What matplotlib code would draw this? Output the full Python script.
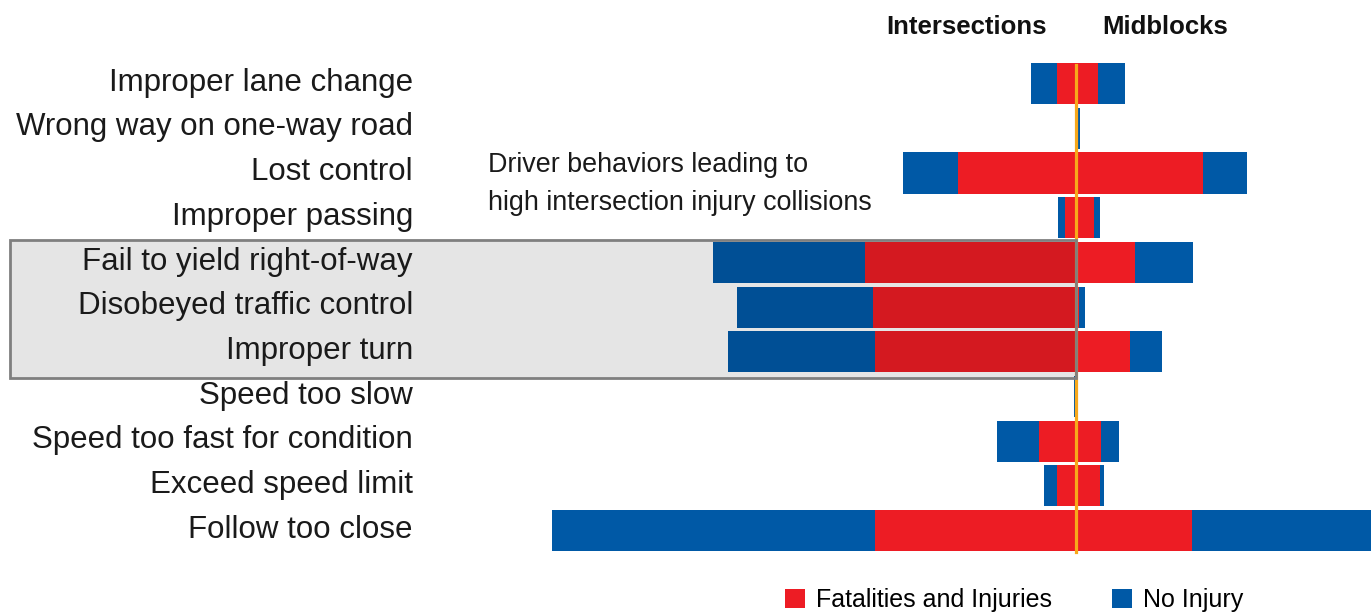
import matplotlib.pyplot as plt
import numpy as np

# driver behaviours, top to bottom
behaviors = [
    "Improper lane change",
    "Wrong way on one-way road",
    "Lost control",
    "Improper passing",
    "Fail to yield right-of-way",
    "Disobeyed traffic control",
    "Improper turn",
    "Speed too slow",
    "Speed too fast for condition",
    "Exceed speed limit",
    "Follow too close",
]

# intersections (drawn to the left)
int_injury = [19, 0, 118, 11, 211, 203, 201, 0, 37, 19, 201]
int_no_injury = [26, 0, 55, 7, 152, 136, 147, 2, 42, 13, 323]

# midblocks (drawn to the right)
mid_injury = [22, 0, 127, 18, 59, 3, 54, 0, 25, 24, 116]
mid_no_injury = [27, 4, 44, 6, 58, 6, 32, 0, 18, 4, 190]

# rows inside the grey highlight box
highlighted = ["Fail to yield right-of-way", "Improper turn"]

RED = "#ed1c24"
BLUE = "#0059a6"
ORANGE = "#f7a81b"

plt.rcParams["font.family"] = ["Liberation Sans", "DejaVu Sans"]

fig = plt.figure(figsize=(13.71, 6.16), dpi=100)
ax = fig.add_axes([0, 0, 1, 1])
ax.axis("off")

y = np.arange(len(behaviors))
h = 0.92
ii = np.array(int_injury)
mi = np.array(mid_injury)

ax.barh(y, -ii, height=h, color=RED, zorder=2, label="Fatalities and Injuries")
ax.barh(y, -np.array(int_no_injury), left=-ii, height=h, color=BLUE, zorder=2,
        label="No Injury")
ax.barh(y, mi, height=h, color=RED, zorder=2)
ax.barh(y, mid_no_injury, left=mi, height=h, color=BLUE, zorder=2)

ax.set_xlim(-1076, 295)
ax.set_ylim(11.91, -1.87)

# centre line
ax.plot([0, 0], [-0.42, len(behaviors) - 0.53], color=ORANGE, lw=2.3, zorder=2.5)

# grey highlight box
i0 = behaviors.index(highlighted[0])
i1 = behaviors.index(highlighted[1])
box = plt.Rectangle((-1066, i0 - 0.5), 1066, i1 - i0 + 1.08,
                    facecolor=(0, 0, 0, 0.1), edgecolor="#7f7f7f", lw=2, zorder=3)
ax.add_patch(box)

for yi, name in zip(y, behaviors):
    ax.text(-663, yi - 0.02, name, ha="right", va="center", fontsize=22.5,
            color="#1a1a1a")

ax.text(-110, -1.26, "Intersections", ha="center", va="center", fontsize=18.5,
        fontweight="bold", color="#111111")
ax.text(89, -1.26, "Midblocks", ha="center", va="center", fontsize=18.5,
        fontweight="bold", color="#111111")

ax.text(-588, 2.24, "Driver behaviors leading to\nhigh intersection injury collisions",
        ha="left", va="center", fontsize=19.4, color="#1a1a1a",
        linespacing=1.6)

ax.legend(loc="lower left", bbox_to_anchor=(762 / 1371, -0.03),
          bbox_transform=fig.transFigure, ncol=2, frameon=False,
          handlelength=0.8, handleheight=0.8, handletextpad=0.45,
          columnspacing=2.4, prop={"size": 18})

fig.savefig("out.png", dpi=100)
